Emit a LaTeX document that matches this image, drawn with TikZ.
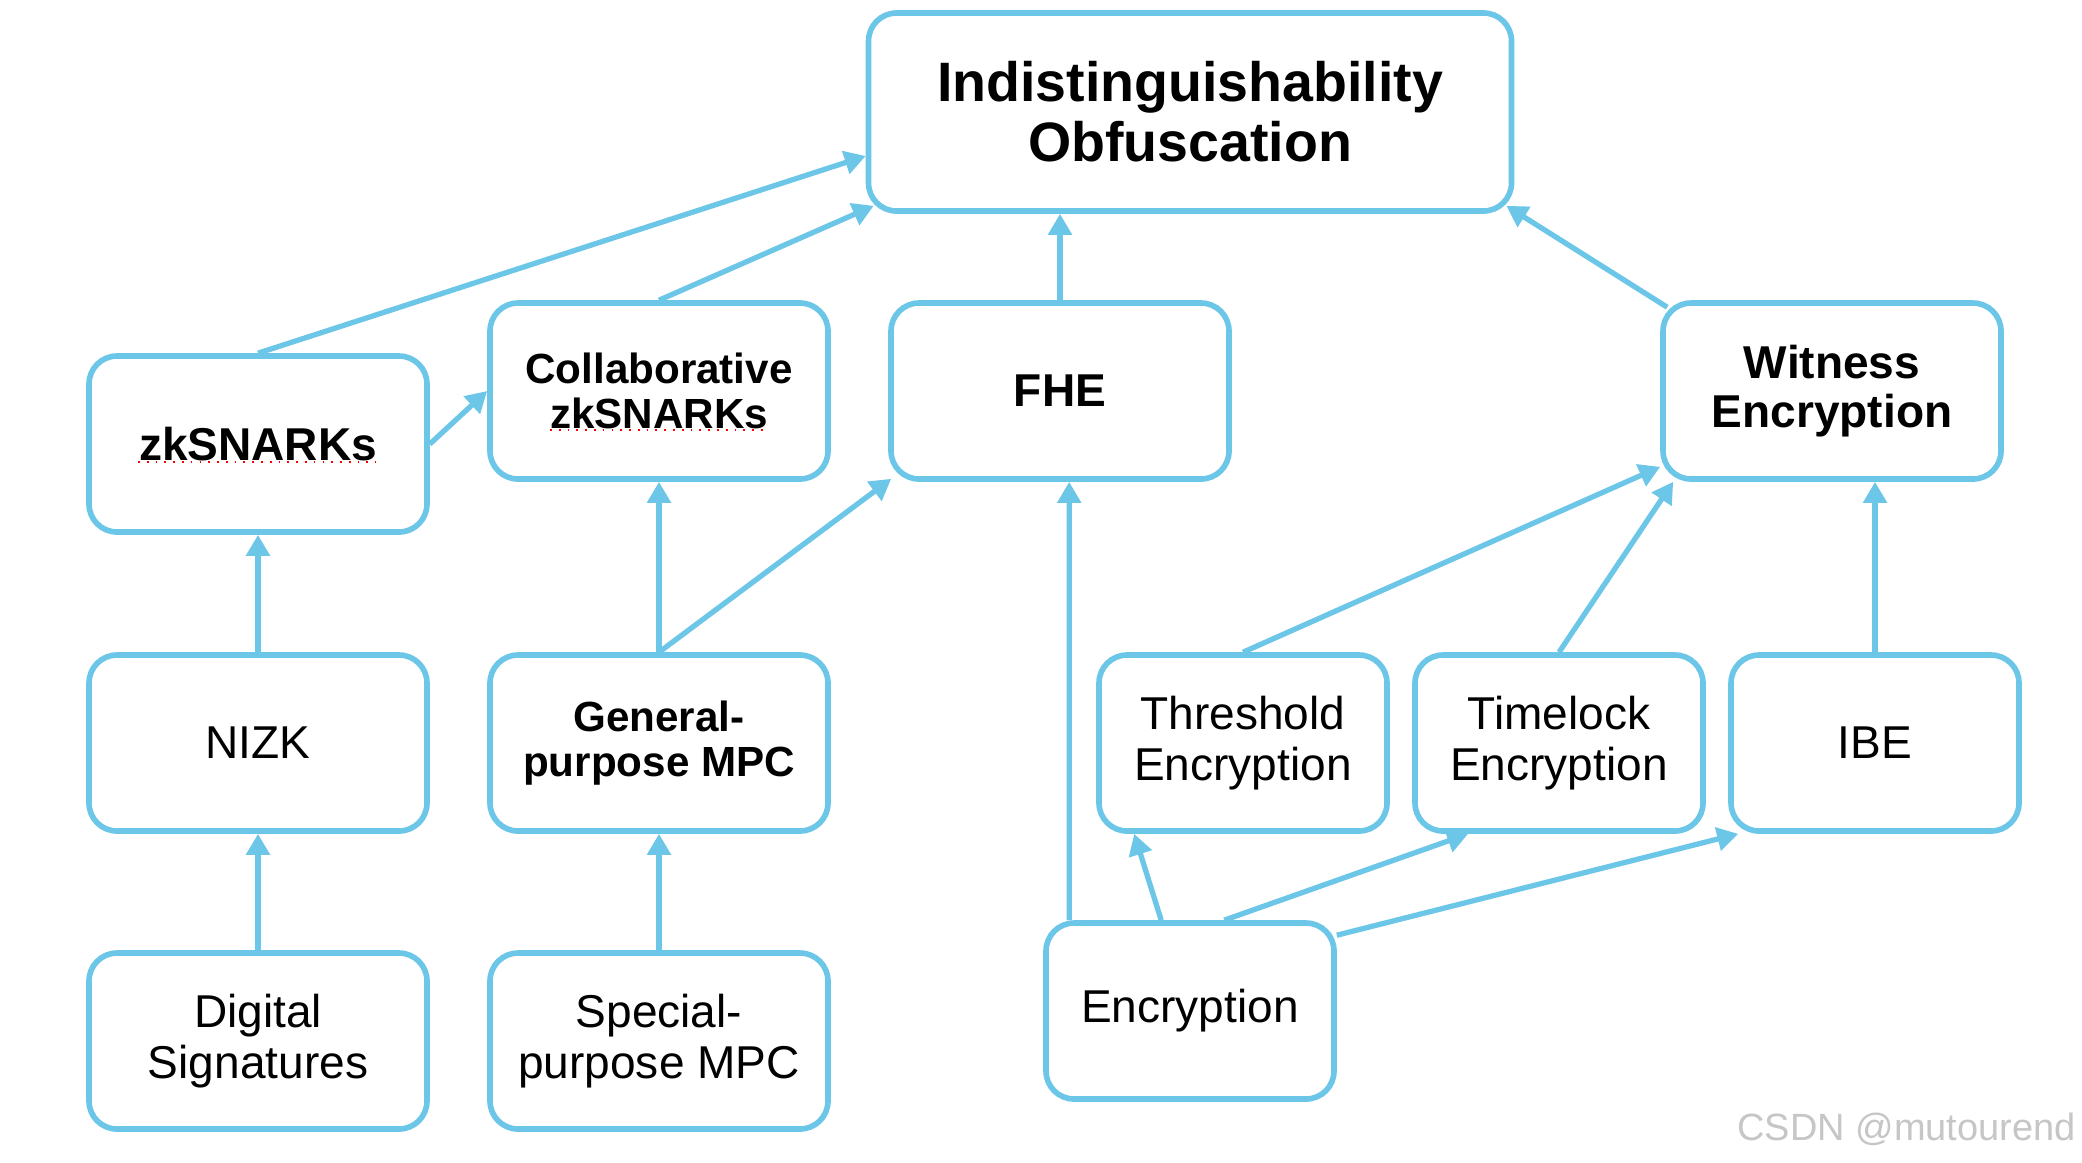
\documentclass[tikz,border=0pt]{standalone}
\usepackage{fontspec}
\setmainfont{Liberation Sans}
\usetikzlibrary{arrows.meta}
\definecolor{keyblue}{RGB}{108,198,232}

\begin{document}
\begin{tikzpicture}[
    box/.style={draw=keyblue, line width=1.6pt, rounded corners=0.28cm, fill=white, align=center,
        inner sep=0pt, minimum width=3.38cm, minimum height=1.76cm, font=\fontsize{13.1}{14.4}\selectfont},
    narrowbox/.style={box, minimum width=2.88cm},
    boldtxt/.style={font=\fontsize{13.1}{14}\selectfont\bfseries},
    boldsmall/.style={font=\fontsize{12}{12.8}\selectfont\bfseries},
    dep/.style={draw=keyblue, line width=1.5pt, -{Triangle[length=0.21cm,width=0.23cm]}},
    spell/.style={red, dotted, line width=0.5pt}]
                \useasboundingbox[fill=white] (0,0) rectangle (20.82,-11.62);

                \node[box, minimum width=6.43cm, minimum height=1.98cm,
                    font=\fontsize{15.8}{17.1}\selectfont\bfseries] (io) at (11.90,-1.12) {Indistinguishability\\Obfuscation};
                \node[box, boldtxt] (zk) at (2.58,-4.44) {zkSNARKs};
                \node[box, boldsmall] (collab) at (6.59,-3.91) {Collaborative\\zkSNARKs};
                \node[box, boldtxt] (fhe) at (10.60,-3.91) {FHE};
                \node[box, boldtxt] (we) at (18.32,-3.91) {Witness\\Encryption};
                \node[box] (nizk) at (2.58,-7.43) {NIZK};
                \node[box, boldsmall] (gp) at (6.59,-7.43) {General-\\purpose MPC};
                \node[narrowbox] (th) at (12.43,-7.43) {Threshold\\Encryption};
                \node[narrowbox] (tl) at (15.59,-7.43) {Timelock\\Encryption};
                \node[narrowbox] (ibe) at (18.75,-7.43) {IBE};
                \node[box] (ds) at (2.58,-10.41) {Digital\\Signatures};
                \node[box] (sp) at (6.59,-10.41) {Special-\\purpose MPC};
                \node[narrowbox] (enc) at (11.90,-10.11) {Encryption};
                \node[anchor=base east, text=gray!45, font=\fontsize{10.8}{12}\selectfont] (mark) at (20.88,-11.40) {CSDN @mutourend};

                % spell check marks
                \draw[spell] ([shift={(-1.2,-0.18)}]zk.center) -- ([shift={(1.18,-0.18)}]zk.center);
                \draw[spell] ([shift={(-1.09,-0.39)}]collab.center) -- ([shift={(1.08,-0.39)}]collab.center);

                \draw[dep] (zk.north) -- ([yshift=-0.44cm]io.west);
                \draw[dep] (collab.north) -- ([xshift=.08cm,yshift=.08cm]io.south west);
                \draw[dep] (zk.east) -- (collab.west);
                \draw[dep] (fhe.north) -- (fhe.north |- io.south);
                \draw[dep] ([xshift=.07cm,yshift=-.07cm]we.north west) -- ([xshift=-.08cm,yshift=.08cm]io.south east);
                \draw[dep] (nizk.north) -- (zk.south);
                \draw[dep] (ds.north) -- (nizk.south);
                \draw[dep] (gp.north) -- (collab.south);
                \draw[dep] (gp.north) -- ([xshift=.03cm,yshift=.03cm]fhe.south west);
                \draw[dep] (sp.north) -- (gp.south);
                \draw[dep] ([xshift=.26cm]enc.north west) -- ([xshift=1.81cm]fhe.south west);
                \draw[dep] (th.north) -- ([yshift=.15cm]we.south west);
                \draw[dep] (tl.north) -- ([xshift=.13cm]we.south west);
                \draw[dep] (ibe.north) -- (ibe.north |- we.south);
                \draw[dep] ([xshift=1.18cm]enc.north west) -- ([xshift=.38cm]th.south west);
                \draw[dep] ([xshift=1.81cm]enc.north west) -- ([xshift=.56cm]tl.south west);
                \draw[dep] ([yshift=-.15cm]enc.north east) -- ([xshift=.1cm]ibe.south west);
            \end{tikzpicture}
\end{document}
